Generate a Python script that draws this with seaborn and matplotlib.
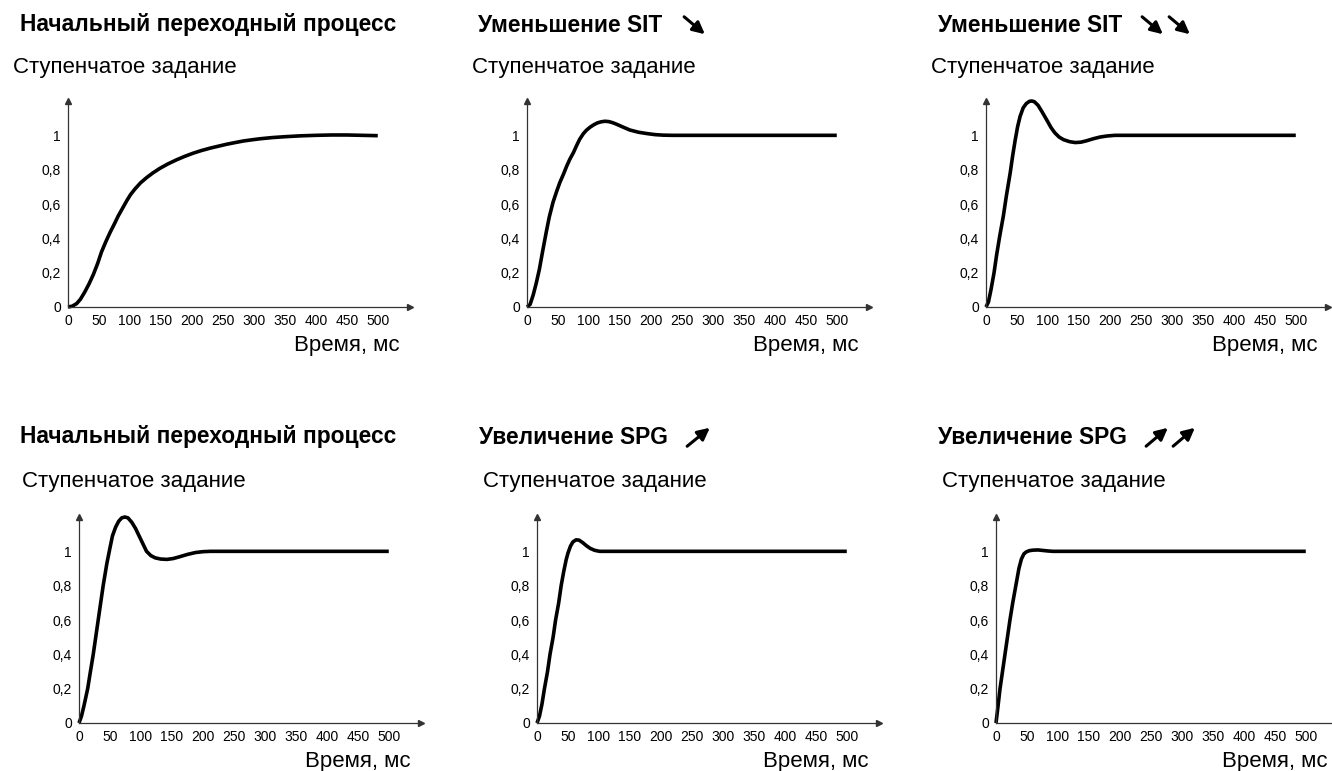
import numpy as np
import pandas as pd
import matplotlib
matplotlib.use("Agg")
import matplotlib.pyplot as plt
import seaborn as sns

# --- data (time in ms, normalised response) ---
t1 = [0, 7, 14, 20, 27, 34, 41, 48, 54, 61, 68, 75, 81, 88, 95, 101, 108, 117, 127, 137, 148, 161, 175, 188, 202, 215, 229, 243, 256, 270, 283, 297, 310, 330, 350, 375, 400, 425, 450, 475, 500]
y1 = [0, 0.005, 0.02, 0.045, 0.087, 0.135, 0.19, 0.255, 0.32, 0.38, 0.435, 0.485, 0.53, 0.575, 0.62, 0.655, 0.687, 0.723, 0.754, 0.781, 0.807, 0.833, 0.857, 0.877, 0.896, 0.911, 0.925, 0.937, 0.948, 0.958, 0.967, 0.974, 0.98, 0.987, 0.992, 0.997, 1.0, 1.002, 1.002, 1.0, 0.998]

t2 = [0, 5, 10, 15, 20, 25, 31, 36, 42, 48, 53, 59, 64, 69, 75, 80, 85, 91, 96, 102, 108, 114, 120, 126, 132, 138, 145, 155, 166, 180, 194, 207, 220, 235, 500]
y2 = [0, 0.015, 0.07, 0.14, 0.22, 0.32, 0.435, 0.525, 0.61, 0.675, 0.725, 0.775, 0.82, 0.86, 0.9, 0.94, 0.977, 1.01, 1.03, 1.048, 1.062, 1.073, 1.079, 1.082, 1.08, 1.074, 1.064, 1.048, 1.031, 1.018, 1.01, 1.004, 1.001, 1.0, 1.0]

t3 = [0, 4, 8, 13, 17, 22, 28, 33, 39, 43, 47, 51, 55, 60, 65, 70, 74, 78, 84, 90, 98, 105, 111, 118, 125, 135, 144, 153, 162, 173, 184, 195, 208, 220, 500]
y3 = [0, 0.03, 0.1, 0.2, 0.3, 0.41, 0.53, 0.65, 0.78, 0.88, 0.97, 1.05, 1.11, 1.16, 1.185, 1.198, 1.2, 1.196, 1.175, 1.14, 1.09, 1.045, 1.015, 0.99, 0.975, 0.963, 0.958, 0.96, 0.968, 0.98, 0.99, 0.996, 1.0, 1.0, 1.0]

t4 = [0, 4, 8, 14, 18, 23, 27, 31, 35, 39, 45, 50, 54, 59, 64, 69, 74, 79, 85, 91, 97, 103, 109, 116, 123, 132, 142, 152, 162, 175, 188, 200, 212, 225, 500]
y4 = [0, 0.04, 0.1, 0.2, 0.29, 0.4, 0.5, 0.6, 0.7, 0.8, 0.93, 1.02, 1.09, 1.14, 1.175, 1.195, 1.2, 1.195, 1.17, 1.135, 1.09, 1.045, 1.0, 0.975, 0.962, 0.955, 0.953, 0.958, 0.968, 0.982, 0.993, 0.998, 1.0, 1.0, 1.0]

t5 = [0, 4, 8, 12, 17, 21, 26, 30, 35, 39, 43, 47, 50, 54, 58, 63, 68, 74, 80, 86, 93, 101, 110, 500]
y5 = [0, 0.04, 0.11, 0.2, 0.3, 0.4, 0.5, 0.6, 0.7, 0.8, 0.88, 0.95, 0.99, 1.03, 1.055, 1.067, 1.065, 1.05, 1.032, 1.017, 1.006, 1.0, 1.0, 1.0]

t6 = [0, 3, 6.5, 10.5, 14.5, 18.5, 22.5, 27, 32, 37, 41, 45, 49, 54, 60, 68, 76, 84, 92, 500]
y6 = [0, 0.09, 0.2, 0.3, 0.4, 0.5, 0.6, 0.7, 0.8, 0.9, 0.955, 0.985, 0.997, 1.004, 1.007, 1.008, 1.005, 1.002, 1.0, 1.0]

x_ticks = [0, 50, 100, 150, 200, 250, 300, 350, 400, 450, 500]
y_ticks = [0, 0.2, 0.4, 0.6, 0.8, 1.0]
y_tick_labels = ["0", "0,2", "0,4", "0,6", "0,8", "1"]

titles = ["Начальный переходный процесс", "Уменьшение SIT", "Уменьшение SIT",
          "Начальный переходный процесс", "Увеличение SPG", "Увеличение SPG"]
subtitle = "Ступенчатое задание"
xlabel = "Время, мс"

sns.set_style("white")
plt.rcParams['font.family'] = ['Liberation Sans', 'DejaVu Sans']
plt.rcParams['text.color'] = 'black'

W, H = 1332, 771
fig = plt.figure(figsize=(W / 100, H / 100), dpi=100)


def px_axes(left, bottom_from_top, width=342, height=206):
    return fig.add_axes([left / W, (H - bottom_from_top) / H, width / W, height / H])


# axes origin positions in pixels (x of origin, y of origin from top)
origins = [(68, 307), (527, 307), (986, 307), (79, 723), (537, 723), (996, 723)]
series = [(t1, y1), (t2, y2), (t3, y3), (t4, y4), (t5, y5), (t6, y6)]

for (ox, oy), (t, y) in zip(origins, series):
    ax = px_axes(ox, oy)
    df = pd.DataFrame({"t": t, "y": y})
    sns.lineplot(data=df, x="t", y="y", ax=ax, color="black", lw=2.6, clip_on=False,
                 solid_joinstyle="round", solid_capstyle="butt")
    ax.set_xlim(0, 552)
    ax.set_ylim(0, 1.2)
    ax.set_xticks(x_ticks)
    ax.set_yticks(y_ticks)
    ax.set_yticklabels(y_tick_labels)
    ax.set_xlabel("")
    ax.set_ylabel("")
    for s in ["top", "right"]:
        ax.spines[s].set_visible(False)
    for s in ["left", "bottom"]:
        ax.spines[s].set_color("#333333")
        ax.spines[s].set_linewidth(0.9)
    ax.tick_params(axis="both", direction="out", length=3, width=0.8, colors="#333333",
                   labelsize=10, pad=2, labelcolor="black")
    # arrow heads on axes
    ax.plot(1, 0, ">", color="#333333", ms=5, transform=ax.get_yaxis_transform(), clip_on=False)
    ax.plot(0, 1, "^", color="#333333", ms=5, transform=ax.get_xaxis_transform(), clip_on=False)
    ax.text(332 / 342, -38 / 206, xlabel, transform=ax.transAxes, ha="right", va="center",
            fontsize=16)


def ftext(x, y, s, **kw):
    fig.text(x / W, 1 - y / H, s, va="center", ha="left", **kw)


title_pos = [(20, 25), (478, 25), (938, 25), (20, 437), (479, 437), (938, 437)]
sub_pos = [(13, 67), (472, 67), (931, 67), (22, 482), (483, 482), (942, 482)]
for (x, y), s in zip(title_pos, titles):
    ftext(x, y, s, fontsize=16.4, fontweight="bold")
for (x, y) in sub_pos:
    ftext(x, y, subtitle, fontsize=16)

# decorative arrows next to titles
arrows = [((682, 15), (707, 36)),
          ((1140, 15), (1165, 36)), ((1167, 15), (1192, 36)),
          ((685, 448), (712, 426)),
          ((1144, 448), (1170, 426)), ((1171, 448), (1197, 426))]
for (x0, y0), (x1, y1_) in arrows:
    fig.add_artist(matplotlib.patches.FancyArrowPatch(
        (x0 / W, 1 - y0 / H), (x1 / W, 1 - y1_ / H), transform=fig.transFigure,
        arrowstyle="-|>", mutation_scale=18, lw=2.2, color="black"))

fig.savefig("out.png", dpi=100)
